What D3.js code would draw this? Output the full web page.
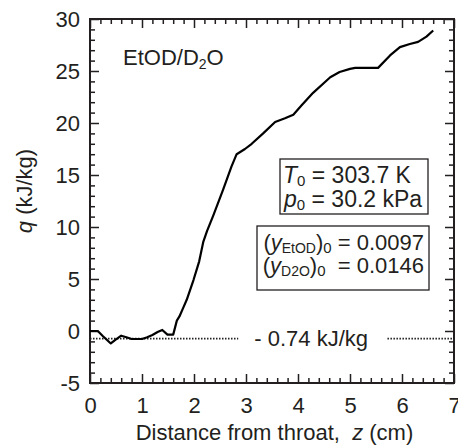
<!DOCTYPE html>
<html><head><meta charset="utf-8">
<script src="https://cdn.jsdelivr.net/npm/d3@7"></script>
<style>body{margin:0;background:#fff}svg text{font-family:"Liberation Sans",Arial,Helvetica,sans-serif;fill:#231f20}</style>
</head><body><svg id="c" width="458" height="448"></svg>
<script>
const zValues = [0,0.15,0.25,0.40,0.5,0.6,0.7,0.8,1.0,1.1,1.2,1.3,1.39,1.49,1.6,1.67,1.72,1.79,1.86,1.99,2.1,2.18,2.25,2.37,2.56,2.72,2.82,2.98,3.11,3.33,3.56,3.75,3.91,4.07,4.29,4.62,4.8,5.0,5.1,5.54,5.77,5.96,6.15,6.31,6.47,6.6];
const qValues = [0,0,-0.5,-1.2,-0.8,-0.45,-0.6,-0.77,-0.77,-0.6,-0.38,-0.1,0.1,-0.35,-0.35,1.0,1.4,2.2,3.0,4.9,6.7,8.6,9.6,11.1,13.6,15.8,17.0,17.5,18.0,19.0,20.1,20.45,20.8,21.7,22.9,24.4,24.9,25.2,25.3,25.3,26.5,27.3,27.6,27.8,28.3,28.9];
const xMajorTicks = [0,1,2,3,4,5,6,7];
const yMajorTicks = [-5,0,5,10,15,20,25,30];
const refLevel = -0.74;
const refLabel = "- 0.74 kJ/kg";

const svg = d3.select("#c");
const L=90,R=454,T=19,B=383;
const x = d3.scaleLinear().domain([0,7]).range([L,R]);
const y = d3.scaleLinear().domain([-5,30]).range([B,T]);
const xMinor = d3.range(0,7.001,0.2).filter(v=>Math.abs(v-Math.round(v))>1e-6);
const yMinor = d3.range(-5,30.001,1).filter(v=>v%5!==0);
const FS = 22;

function styleAxis(g){
  g.selectAll(".domain").remove();
  g.selectAll("line").attr("stroke","#231f20").attr("stroke-width",1.5);
  g.selectAll("text").attr("font-size",FS).style("font-family","Liberation Sans, Arial, sans-serif").attr("fill","#231f20");
}
// bottom
svg.append("g").attr("transform",`translate(0,${B})`).call(d3.axisBottom(x).tickValues(xMajorTicks).tickSize(-9).tickPadding(14).tickFormat(d3.format("d"))).call(styleAxis);
svg.append("g").attr("transform",`translate(0,${B})`).call(d3.axisBottom(x).tickValues(xMinor).tickSize(-5).tickFormat("")).call(styleAxis);
// top
svg.append("g").attr("transform",`translate(0,${T})`).call(d3.axisTop(x).tickValues(xMajorTicks).tickSize(-9).tickFormat("")).call(styleAxis);
svg.append("g").attr("transform",`translate(0,${T})`).call(d3.axisTop(x).tickValues(xMinor).tickSize(-5).tickFormat("")).call(styleAxis);
// left
svg.append("g").attr("transform",`translate(${L},0)`).call(d3.axisLeft(y).tickValues(yMajorTicks).tickSize(-9).tickPadding(10).tickFormat(d3.format("d"))).call(styleAxis);
svg.append("g").attr("transform",`translate(${L},0)`).call(d3.axisLeft(y).tickValues(yMinor).tickSize(-5).tickFormat("")).call(styleAxis);
// right
svg.append("g").attr("transform",`translate(${R},0)`).call(d3.axisRight(y).tickValues(yMajorTicks).tickSize(-9).tickFormat("")).call(styleAxis);
svg.append("g").attr("transform",`translate(${R},0)`).call(d3.axisRight(y).tickValues(yMinor).tickSize(-5).tickFormat("")).call(styleAxis);
// frame
svg.append("rect").attr("x",L).attr("y",T).attr("width",R-L).attr("height",B-T).attr("fill","none").attr("stroke","#231f20").attr("stroke-width",2);

// hyphen-minus for negative tick labels
svg.selectAll("text").filter(function(){return this.textContent.startsWith("−");}).text(function(){return "-"+this.textContent.slice(1);});

// reference dotted line
svg.append("line").attr("x1",x(0)).attr("x2",x(2.85)).attr("y1",y(refLevel)).attr("y2",y(refLevel)).attr("stroke","#231f20").attr("stroke-width",1.8).attr("stroke-dasharray","1.5,1.5");
svg.append("line").attr("x1",x(5.72)).attr("x2",x(7)).attr("y1",y(refLevel)).attr("y2",y(refLevel)).attr("stroke","#231f20").attr("stroke-width",1.8).attr("stroke-dasharray","1.5,1.5");
svg.append("text").attr("x",x(3.16)).attr("y",y(refLevel)+7).attr("font-size",FS).text(refLabel);

// curve
const pts = zValues.map((z,i)=>[z,qValues[i]]);
svg.append("path").datum(pts).attr("fill","none").attr("stroke","#000").attr("stroke-width",2.2).attr("stroke-linejoin","round")
  .attr("d",d3.line().x(d=>x(d[0])).y(d=>y(d[1])));

// label EtOD/D2O
const t1 = svg.append("text").attr("x",123).attr("y",65).attr("font-size",FS);
t1.append("tspan").text("EtOD/D");
t1.append("tspan").attr("font-size",14).attr("dy",4).text("2");
t1.append("tspan").attr("dy",-4).text("O");

// box 1
svg.append("rect").attr("x",280).attr("y",159).attr("width",148).attr("height",55).attr("fill","#fff").attr("stroke","#231f20").attr("stroke-width",1.3);
let b = svg.append("text").attr("x",283).attr("y",183).attr("font-size",23);
b.append("tspan").attr("font-style","italic").text("T");
b.append("tspan").attr("font-size",15).attr("dy",3).text("0");
b.append("tspan").attr("dy",-3).text(" = 303.7 K");
b = svg.append("text").attr("x",284).attr("y",207).attr("font-size",23);
b.append("tspan").attr("font-style","italic").text("p");
b.append("tspan").attr("font-size",15).attr("dy",3).text("0");
b.append("tspan").attr("dy",-3).text(" = 30.2 kPa");

// box 2
svg.append("rect").attr("x",257).attr("y",226).attr("width",172).attr("height",64).attr("fill","#fff").attr("stroke","#231f20").attr("stroke-width",1.3);
b = svg.append("text").attr("x",424).attr("y",250).attr("font-size",22).attr("text-anchor","end");
b.append("tspan").text("(");
b.append("tspan").attr("font-style","italic").text("y");
b.append("tspan").attr("font-size",14).attr("dy",3).text("EtOD");
b.append("tspan").attr("dy",-3).text(")");
b.append("tspan").attr("font-size",15).attr("dy",3).text("0");
b.append("tspan").attr("dy",-3).text(" = 0.0097");
b = svg.append("text").attr("x",424).attr("y",273).attr("font-size",22).attr("text-anchor","end");
b.append("tspan").text("(");
b.append("tspan").attr("font-style","italic").text("y");
b.append("tspan").attr("font-size",14).attr("dy",3).text("D2O");
b.append("tspan").attr("dy",-3).text(")");
b.append("tspan").attr("font-size",15).attr("dy",3).text("0");
b.append("tspan").attr("dy",-3).style("white-space","pre").text("  = 0.0146");

// axis titles
const xt = svg.append("text").attr("x",(137+412)/2).attr("y",440).attr("font-size",FS).attr("text-anchor","middle").style("white-space","pre");
xt.append("tspan").text("Distance from throat,  ");
xt.append("tspan").attr("font-style","italic").text("z");
xt.append("tspan").text(" (cm)");
const yt = svg.append("text").attr("transform","translate(32,191) rotate(-90)").attr("font-size",FS).attr("text-anchor","middle");
yt.append("tspan").attr("font-style","italic").text("q");
yt.append("tspan").text(" (kJ/kg)");
</script></body></html>
